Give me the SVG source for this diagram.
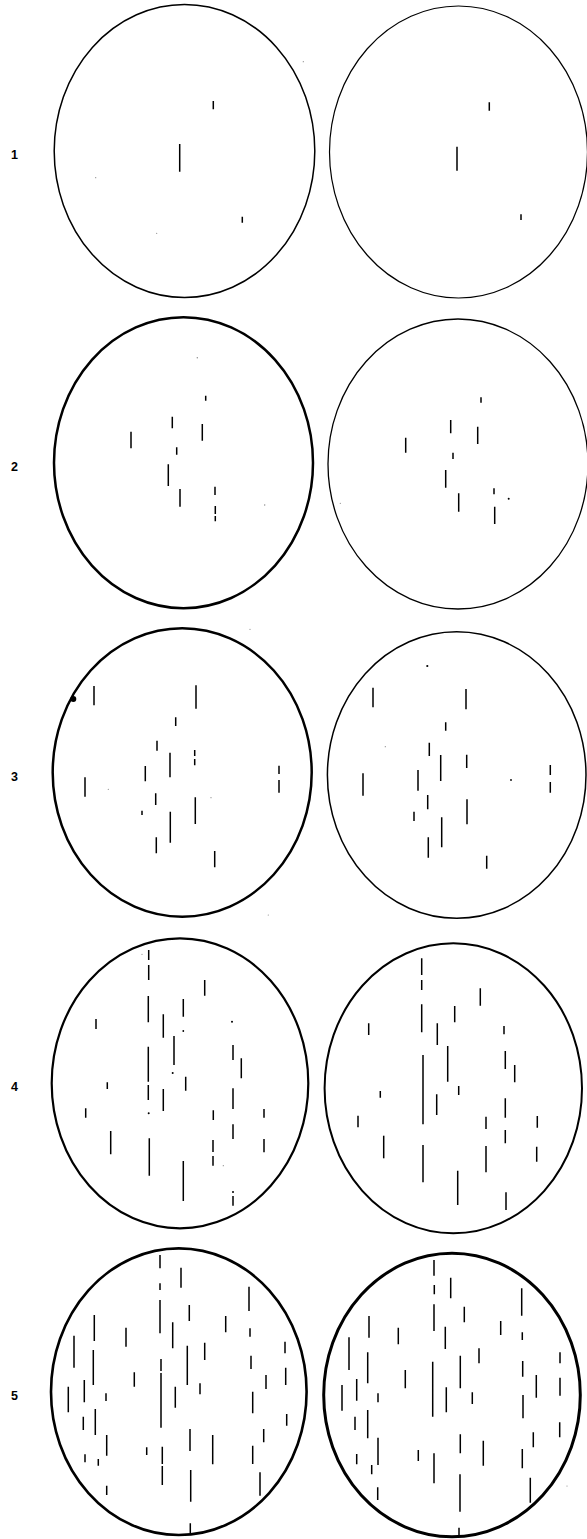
<svg xmlns="http://www.w3.org/2000/svg" width="587" height="1539" viewBox="0 0 587 1539">
<style>
.bg{fill:#fff}
.c{fill:none;stroke:#000}
.d{fill:none;stroke:#000;stroke-width:1.5;stroke-linecap:butt}
.t{font-family:"Liberation Sans",Arial,sans-serif;font-weight:bold;font-size:12.5px;fill:#000;text-anchor:middle}
.s{fill:#888}
</style>
<rect class="bg" x="0" y="0" width="587" height="1539"/>
<g id="labels">
<text class="t" x="14.5" y="159">1</text>
<text class="t" x="14.5" y="470.5">2</text>
<text class="t" x="14.5" y="780.5">3</text>
<text class="t" x="14.5" y="1091">4</text>
<text class="t" x="14.5" y="1400">5</text>
</g>
<g id="plate-1-left">
<ellipse class="c" cx="184.5" cy="151" rx="130.3" ry="146.5" stroke-width="1.5"/>
<path class="d" d="M213.3 101V109.3M179.7 144V171.7M242.3 216.7V222.7"/>
<circle class="s" cx="303.3" cy="61.7" r="0.6"/><circle class="s" cx="95.7" cy="177.7" r="0.6"/><circle class="s" cx="156.7" cy="233.3" r="0.6"/>
</g>
<g id="plate-1-right">
<ellipse class="c" cx="458.5" cy="152" rx="129" ry="146" stroke-width="1.2"/>
<path class="d" d="M489.3 102.3V110.7M457 146.7V170.7M521 214.3V220"/>
</g>
<g id="plate-2-left">
<ellipse class="c" cx="183.5" cy="462.7" rx="129.5" ry="145.5" stroke-width="2.5"/>
<path class="d" d="M205.7 395.7V400.7M172.3 416.7V428.3M202.3 424V440.7M131 431.7V448.3M176.7 447.3V454.7M168.3 464.3V486M180 489V506.7M215 486.7V495M215.3 506V514M215.3 516V521.3"/>
<circle class="s" cx="197.3" cy="357.7" r="0.7"/><circle class="s" cx="264.7" cy="505" r="0.7"/>
</g>
<g id="plate-2-right">
<ellipse class="c" cx="458" cy="464" rx="130" ry="145" stroke-width="1.3"/>
<path class="d" d="M481 397.3V402.7M450.7 420V433.3M477.7 426.7V444M405.7 437.7V452.7M453 452.7V459M445.7 470V487.7M458.7 493.3V511.7M494 488.3V494.3M494.7 506.7V524"/>
<circle cx="508.7" cy="498.7" r="1"/><circle class="s" cx="340.3" cy="503.3" r="0.6"/>
</g>
<g id="plate-3-left">
<ellipse class="c" cx="182.2" cy="772.5" rx="129.5" ry="144.2" stroke-width="2.5"/>
<circle cx="73.3" cy="699" r="3"/>
<path class="d" d="M94 686V705.3M196 685.3V708.7M175.7 717.3V726M157 740.7V750.7M170 752.7V777.3M194.7 750V756M194.7 759V765.3M145.3 766V781.3M85 777.3V796.7M279 765.7V774M279 780V792.7M155.7 793.3V805M195.3 797.3V824M142 810.7V815M170.3 811.7V842.7M156.3 837.3V853.3M214.7 851V867.3"/>
<circle class="s" cx="108.3" cy="789.3" r="0.6"/><circle class="s" cx="211" cy="797.7" r="0.6"/><circle class="s" cx="250" cy="629.3" r="0.6"/><circle class="s" cx="268.3" cy="915" r="0.6"/>
</g>
<g id="plate-3-right">
<ellipse class="c" cx="456.7" cy="775" rx="129.3" ry="143.3" stroke-width="1.5"/>
<circle cx="427.3" cy="666" r="1.1"/><circle cx="511" cy="780" r="0.9"/>
<path class="d" d="M373 687.7V707.3M466 689V709.3M445.7 722.3V730.7M429.3 742.7V756M440.7 755V781M466.7 754.7V768M418 770V790.7M363 773.3V795.7M550.3 765V775M550.3 782V792.7M427.7 795V809.3M467 799.3V824.3M414 811.7V821M441.7 817.3V847.3M428.3 837.3V857.7M486.7 855.7V868.7"/>
<circle class="s" cx="385.3" cy="746.7" r="0.6"/>
</g>
<g id="plate-4-left">
<ellipse class="c" cx="180" cy="1083.3" rx="128.3" ry="145" stroke-width="2.2"/>
<path class="d" d="M148.7 950V960M148.7 965V980M204.7 980V995.7M148.3 996V1022.3M183.3 999V1016.7M163.3 1014.3V1037.7M96 1019V1029M174 1036V1065M148.3 1046.7V1081.7M148.3 1085V1100M233 1045V1060M241.3 1058.3V1078.3M185.7 1076.7V1090.7M107.3 1082.3V1089M163.3 1089V1111M233 1088.3V1109M85.7 1108.3V1117.7M213.3 1110.3V1120M264 1109V1117.7M233 1124.3V1139M110.7 1131V1154.3M149.3 1138.3V1175.7M213 1140V1152M213 1156V1165.7M264 1139V1152.3M183.3 1161V1201M233 1191V1193M233 1196V1205.7"/>
<circle cx="183.3" cy="1031" r="0.9"/><circle cx="232" cy="1021.7" r="1"/><circle cx="172.7" cy="1073" r="1"/><circle cx="148.7" cy="1113.3" r="1"/>
<circle class="s" cx="142" cy="954.3" r="0.6"/><circle class="s" cx="223.3" cy="1165.7" r="0.6"/>
</g>
<g id="plate-4-right">
<ellipse class="c" cx="453.3" cy="1088.3" rx="128.7" ry="145" stroke-width="2"/>
<path class="d" d="M421.7 958.3V975M421.7 980V990M480.3 988.3V1005.7M421.7 1004.3V1032.3M454.7 1006V1022.3M368.7 1023.3V1035M437.3 1023.3V1045M504 1026V1034.3M447.7 1046V1081.7M423 1055V1124.3M505.3 1051V1069M514.7 1065V1082.3M380.3 1091V1097.7M458.7 1086V1095M436.7 1094.3V1115M505.3 1098.3V1117.7M358 1115.7V1127.3M486 1116.7V1129M537.3 1116V1127.7M505.3 1130V1143.3M423 1145V1182.3M486 1146V1172.3M536.7 1146.7V1161.7M457.7 1170.7V1205M506 1192.3V1210"/>
<path class="d" d="M383.7 1135.7V1158.3" stroke-width="2.4"/>
</g>
<g id="plate-5-left">
<ellipse class="c" cx="178.8" cy="1391.7" rx="127.8" ry="143.3" stroke-width="2.6"/>
<path class="d" d="M160 1255V1268.3M160 1283.3V1290M181 1267.7V1287.7M249 1286.7V1311M160 1300V1333.3M189.3 1305V1321M94.3 1315V1341M225.7 1316V1332.3M126 1327.7V1346.7M172.7 1322.3V1348.3M250 1328.3V1336.7M74 1335.7V1367.7M204.7 1342.7V1360M285 1341.7V1353.3M93.3 1350V1385M187.3 1345.7V1385M251 1355.7V1369M161 1359V1371M161 1373V1427.7M134.3 1372.3V1386.7M266 1375V1389M285.7 1367.7V1385M84.3 1380V1402.3M68.3 1386.7V1412.3M200 1383.3V1394.3M175.3 1386.7V1407.7M106 1393.3V1401M252.7 1391.7V1413.3M95.3 1409V1435M83.3 1416.7V1430M286.7 1414V1425.7M190 1429V1451M212.7 1435V1464.3M263.7 1429V1442.3M106.7 1435V1455.7M146.7 1447.3V1455M162.3 1446.7V1464M162.3 1466V1485M252.7 1445.7V1464M85 1454.3V1462.3M98.3 1459V1465.7M190.7 1470V1501.7M260 1472.3V1495.7M106.7 1485.7V1495M190.3 1523.3V1533"/>
</g>
<g id="plate-5-right">
<ellipse class="c" cx="452" cy="1395" rx="128.3" ry="141.7" stroke-width="3"/>
<path class="d" d="M434 1260V1275.7M434.3 1285V1294.3M434 1304.3V1331M450.7 1277.7V1298.3M521.7 1288.3V1315.7M464.3 1306.7V1322.3M369 1316V1337.7M500.7 1321V1335M398.3 1327.7V1344.3M445.3 1326.7V1349M522.3 1332.3V1340M349 1337.3V1370M479 1348.3V1363.3M560 1352.3V1363.3M367.7 1352.3V1383.3M460.3 1355.7V1388.3M522.7 1361V1376.7M432.7 1361.7V1416.7M405.3 1370V1388.3M536.3 1375V1397.7M560 1377.7V1395.7M356.7 1379V1400.7M342 1385V1410.7M378 1393.3V1402.3M446.3 1387.3V1412.3M472.3 1392.3V1404M523 1395V1418.3M367.7 1410V1438.3M355 1416.7V1430M559.7 1422.3V1437.3M460.3 1434.3V1453.3M533.3 1432.3V1447.3M483.3 1440.7V1465.7M378 1437.7V1465M418.3 1450V1461M522.3 1449V1468.3M434 1453.3V1483.3M356.7 1454V1464.3M371.7 1465V1474.3M460 1474.3V1511.7M530.3 1477.7V1502.7M377.7 1487.3V1500M459 1527.7V1537"/>
<circle class="s" cx="567" cy="1486" r="0.6"/>
</g>
</svg>
